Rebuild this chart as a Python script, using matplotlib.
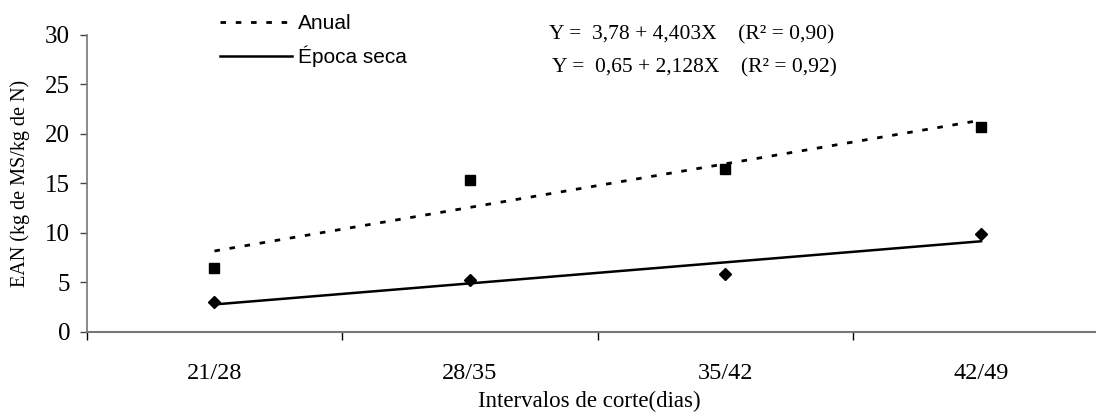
import matplotlib
matplotlib.use("Agg")
import matplotlib.pyplot as plt

# data
categorias = ['21/28', '28/35', '35/42', '42/49']
pos = [1, 2, 3, 4]
anual = [6.5, 15.3, 16.5, 20.7]
seca = [3.0, 5.25, 5.9, 9.9]
# regression line end points (at 21/28 and 42/49)
anual_fit = [8.18, 21.39]
seca_fit = [2.78, 9.16]
eq_anual = 'Y =  3,78 + 4,403X    (R² = 0,90)'
eq_seca = 'Y =  0,65 + 2,128X    (R² = 0,92)'

serif = 'Liberation Serif'
sans = 'Liberation Sans'

fig = plt.figure(figsize=(10.96, 4.16), dpi=100)
ax = fig.add_axes([0.0791, 0.202, 0.9209, 0.714])

ax.plot(pos, anual, 's', color='black', markersize=7.5, linestyle='none')
ax.plot(pos, seca, 'D', color='black', markersize=6, linestyle='none')
l1, = ax.plot([pos[0], pos[-1]], anual_fit, color='black', lw=2,
              dashes=(2, 3.5), label='Anual')
l2, = ax.plot([pos[0], pos[-1]], seca_fit, color='black', lw=1.8,
              label='Época seca')

ax.set_xlim(0.5, 4.45)
ax.set_ylim(0, 30)
ax.set_yticks(range(0, 31, 5))
ax.set_xticks([0.5, 1.5, 2.5, 3.5])
ax.set_xticklabels([])
ax.set_xticks(pos, minor=True)
ax.set_xticklabels(categorias, minor=True, fontfamily=serif, fontsize=17.5)
ax.tick_params(axis='x', which='minor', length=0, pad=22)
ax.tick_params(axis='x', which='major', length=6, width=1, color='black', direction='out')
ax.tick_params(axis='y', length=5, width=1, color='#444444', labelsize=18, pad=7)
for lab in ax.get_yticklabels():
    lab.set_fontfamily(serif)

for s in ['top', 'right']:
    ax.spines[s].set_visible(False)
ax.spines['left'].set_color('#777777')
ax.spines['bottom'].set_color('#777777')
ax.spines['left'].set_linewidth(1.2)
ax.spines['bottom'].set_linewidth(1.5)

ax.set_ylabel('EAN (kg de MS/kg de N)', fontfamily=serif, fontsize=14.5)
ax.yaxis.set_label_coords(-0.056, 0.5)
fig.text(0.538, 0.034, 'Intervalos de corte(dias)', fontfamily=serif,
         fontsize=16.5, ha='center', va='center')

fig.text(0.631, 0.916, eq_anual, fontfamily=serif, fontsize=15.5, ha='center', va='center')
fig.text(0.634, 0.837, eq_seca, fontfamily=serif, fontsize=15.5, ha='center', va='center')

fig.legend(handles=[l1, l2], loc='upper left', bbox_to_anchor=(220 / 1096, 1 - 14 / 416),
           frameon=False, borderpad=0, borderaxespad=0, handlelength=3.45,
           handletextpad=0.3, labelspacing=0.62,
           prop={'family': sans, 'size': 15})

fig.savefig('out.png', dpi=100)
